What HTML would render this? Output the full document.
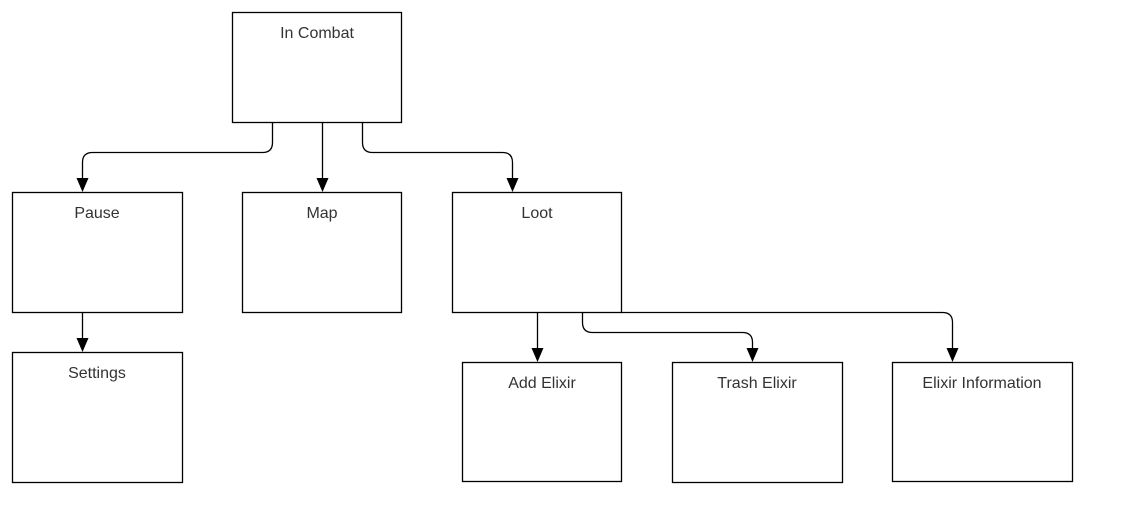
<!DOCTYPE html>
<html><head><meta charset="utf-8"><style>
html,body{margin:0;padding:0;background:#fff;}
svg{display:block;}
text{font-family:"Liberation Sans",sans-serif;font-size:16px;fill:#333;text-anchor:middle;}
</style></head><body>
<svg width="1122" height="532" viewBox="0 0 1122 532">
<defs><marker id="a" markerWidth="12" markerHeight="14" refX="6" refY="14" orient="auto" markerUnits="userSpaceOnUse" viewBox="0 0 12 14"><path d="M0,0 L12,0 L6,14 Z" transform="rotate(-90 6 7) translate(0 0)" fill="#000"/></marker></defs>
<g fill="none" stroke="#000" stroke-width="1.3">
<rect x="232.5" y="12.5" width="169" height="110"/>
<rect x="12.5" y="192.5" width="170" height="120"/>
<rect x="242.5" y="192.5" width="159" height="120"/>
<rect x="452.5" y="192.5" width="169" height="120"/>
<rect x="12.5" y="352.5" width="170" height="130"/>
<rect x="462.5" y="362.5" width="159" height="119"/>
<rect x="672.5" y="362.5" width="170" height="120"/>
<rect x="892.5" y="362.5" width="180" height="119"/>
<path d="M272.5,122 V142.5 Q272.5,152.5 262.5,152.5 H92.5 Q82.5,152.5 82.5,162.5 V180"/>
<path d="M322.5,122 V180"/>
<path d="M362.5,122 V142.5 Q362.5,152.5 372.5,152.5 H502.5 Q512.5,152.5 512.5,162.5 V180"/>
<path d="M82.5,312 V340"/>
<path d="M537.5,312 V350"/>
<path d="M582.5,312 V322.5 Q582.5,332.5 592.5,332.5 H742.5 Q752.5,332.5 752.5,342.5 V350"/>
<path d="M621,312.5 H942.5 Q952.5,312.5 952.5,322.5 V350"/>
</g>
<g fill="#000">
<path d="M76.5,178 L88.5,178 L82.5,192 Z"/>
<path d="M316.5,178 L328.5,178 L322.5,192 Z"/>
<path d="M506.5,178 L518.5,178 L512.5,192 Z"/>
<path d="M76.5,338 L88.5,338 L82.5,352 Z"/>
<path d="M531.5,348 L543.5,348 L537.5,362 Z"/>
<path d="M746.5,348 L758.5,348 L752.5,362 Z"/>
<path d="M946.5,348 L958.5,348 L952.5,362 Z"/>
</g>
<text x="317" y="38">In Combat</text>
<text x="97" y="218">Pause</text>
<text x="322" y="218">Map</text>
<text x="537" y="218">Loot</text>
<text x="97" y="378">Settings</text>
<text x="542" y="388">Add Elixir</text>
<text x="757" y="388">Trash Elixir</text>
<text x="982" y="388">Elixir Information</text>
</svg>
</body></html>
